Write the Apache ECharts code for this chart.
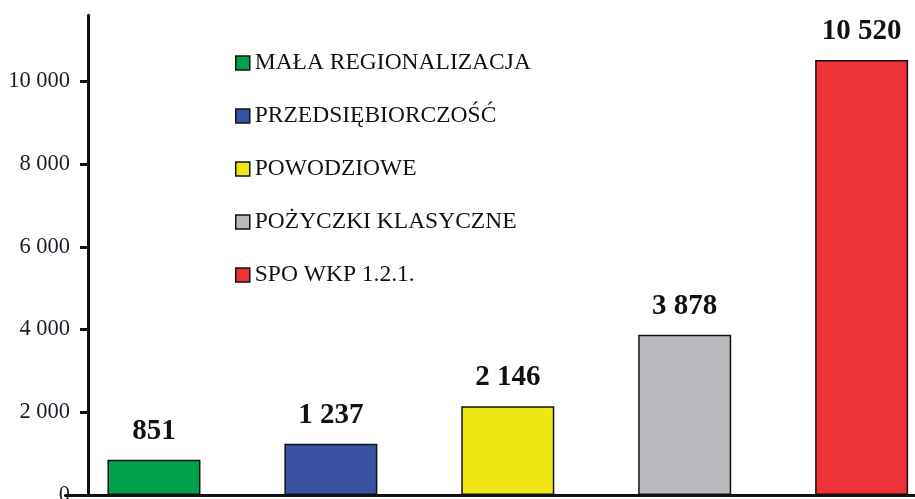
<!DOCTYPE html>
<html>
<head>
<meta charset="utf-8">
<title>Pożyczki</title>
<script src="https://cdn.jsdelivr.net/npm/echarts@6/dist/echarts.min.js"></script>
<style>
  html, body { margin: 0; padding: 0; background: #fff; }
  #chart { width: 915px; height: 499px; }
</style>
</head>
<body>
<div id="chart"></div>
<script>
// dane
var categories = ['MAŁA REGIONALIZACJA', 'PRZEDSIĘBIORCZOŚĆ', 'POWODZIOWE', 'POŻYCZKI KLASYCZNE', 'SPO WKP 1.2.1.'];
var values = [851, 1237, 2146, 3878, 10520];
var colors = ['#00a14b', '#3a52a3', '#eee714', '#b8b9bc', '#ed3237'];
var yTicks = [0, 2000, 4000, 6000, 8000, 10000];

function fmt(v) {
    return String(v).replace(/\B(?=(\d{3})+(?!\d))/g, ' ');
}

var chart = echarts.init(document.getElementById('chart'));

// jedna seria na kategorię, żeby legenda miała wszystkie pozycje
var series = categories.map(function(name, i) {
    var data = categories.map(function(c, j) { return j === i ? values[i] : '-'; });
    return {
        name: name,
        type: 'bar',
        data: data,
        barWidth: 93,
        barGap: '-100%',
        itemStyle: { color: colors[i], borderColor: '#111', borderWidth: 1.5 },
        label: {
            show: true,
            position: 'top',
            distance: 14,
            color: '#111',
            fontFamily: 'Liberation Serif',
            fontWeight: 'bold',
            fontSize: 29,
            formatter: function(p) { return fmt(p.value); }
        }
    };
});

chart.setOption({
    animation: false,
    color: colors,
    grid: { left: 65.5, width: 884.6, top: 15.3, bottom: 4, containLabel: false, outerBoundsMode: 'none' },
    legend: {
        orient: 'vertical',
        left: 230,
        top: 46,
        itemWidth: 14,
        itemHeight: 14,
        itemGap: 29,
        icon: 'rect',
        itemStyle: { borderColor: '#111', borderWidth: 1.5 },
        textStyle: { fontFamily: 'Liberation Serif', fontSize: 23.5, color: '#111', lineHeight: 22 },
        data: categories
    },
    xAxis: {
        type: 'category',
        data: categories,
        axisTick: { show: false },
        axisLabel: { show: false },
        axisLine: { lineStyle: { color: '#111', width: 3 } }
    },
    yAxis: {
        type: 'value',
        min: 0,
        max: 11600,
        offset: -22.5,
        splitLine: { show: false },
        axisLine: { show: true, lineStyle: { color: '#111', width: 3 } },
        axisTick: { show: true, length: 8, customValues: yTicks, lineStyle: { color: '#111', width: 3 } },
        axisLabel: {
            customValues: yTicks,
            margin: 18,
            fontFamily: 'Liberation Serif',
            fontSize: 22.5,
            color: '#1c1c28',
            formatter: function(v) { return fmt(v); }
        }
    },
    series: series
});
</script>
</body>
</html>
